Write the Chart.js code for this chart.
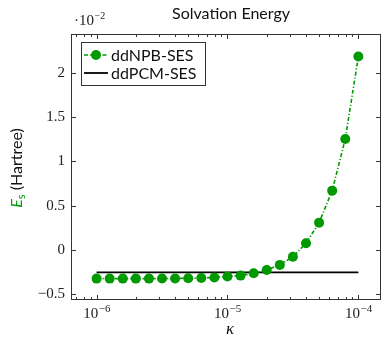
<!DOCTYPE html>
<html>
<head>
<meta charset="utf-8">
<script src="https://cdn.jsdelivr.net/npm/chart.js@4.4.0/dist/chart.umd.min.js"></script>
<style>
html,body{margin:0;padding:0;background:#fff;}
canvas{display:block;}
</style>
</head>
<body>
<canvas id="chart" width="386" height="337"></canvas>
<script>
// ================= DATA =================
const kappa = [1e-6, 1.259e-6, 1.585e-6, 1.995e-6, 2.512e-6, 3.162e-6, 3.981e-6, 5.012e-6, 6.310e-6, 7.943e-6,
               1e-5, 1.259e-5, 1.585e-5, 1.995e-5, 2.512e-5, 3.162e-5, 3.981e-5, 5.012e-5, 6.310e-5, 7.943e-5, 1e-4];
// energies in units of 1e-2 Hartree
const npbSES = [-0.326, -0.326, -0.326, -0.326, -0.326, -0.325, -0.324, -0.322, -0.319, -0.313,
                -0.303, -0.292, -0.266, -0.228, -0.171, -0.078, 0.074, 0.307, 0.669, 1.254, 2.187];
const pcmSES = [-0.255, -0.255, -0.255, -0.255, -0.255, -0.255, -0.255, -0.255, -0.255, -0.255,
                -0.255, -0.255, -0.255, -0.255, -0.255, -0.255, -0.255, -0.255, -0.255, -0.255, -0.255];
const seriesNames = ["ddNPB-SES", "ddPCM-SES"];

const xTickValues = [1e-6, 1e-5, 1e-4];
const xTickExps = ["\u22126", "\u22125", "\u22124"];
const yTickValues = [-0.5, 0, 0.5, 1, 1.5, 2];
const yTickLabels = ["\u22120.5", "0", "0.5", "1", "1.5", "2"];

const GREEN = "#009900";
const SERIF = "'Liberation Serif', 'DejaVu Serif', serif";
const SANS = "Lato, 'Open Sans', sans-serif";
const NPB_DASH = [4, 2, 1.2, 2];

// ================= HELPERS =================
function powLabel(ctx, cx, base, exp, size){
    // "10" with a raised exponent, centred on cx
    ctx.font = size + "px " + SERIF;
    const wb = ctx.measureText("10").width;
    ctx.font = Math.round(size*0.7) + "px " + SERIF;
    const we = ctx.measureText(exp).width;
    const x0 = cx - (wb + we)/2;
    ctx.textAlign = "left";
    ctx.textBaseline = "alphabetic";
    ctx.font = size + "px " + SERIF;
    ctx.fillText("10", x0, base);
    ctx.font = Math.round(size*0.7) + "px " + SERIF;
    ctx.fillText(exp, x0 + wb + 0.5, base - 6);
}

// ================= DECORATION =================
const pgfLook = {
    id: "pgfLook",
    afterDraw(chart){
        const {ctx, chartArea:{left, right, top, bottom}, scales:{x, y}} = chart;
        ctx.save();
        ctx.strokeStyle = "#333";
        ctx.lineWidth = 1;

        // frame
        ctx.strokeRect(left + 0.5, top + 0.5, right - left - 1, bottom - top - 1);

        // x ticks (major + minor), pointing inward
        ctx.beginPath();
        for(let d = -7; d <= -4; d++){
            for(let m = 1; m <= 9; m++){
                const v = m * Math.pow(10, d);
                if(v < x.min || v > x.max) continue;
                const px = Math.round(x.getPixelForValue(v)) + 0.5;
                const len = m === 1 ? 5 : 3;
                ctx.moveTo(px, bottom); ctx.lineTo(px, bottom - len);
                ctx.moveTo(px, top); ctx.lineTo(px, top + len);
            }
        }
        // y ticks
        yTickValues.forEach(v => {
            const py = Math.round(y.getPixelForValue(v)) + 0.5;
            ctx.moveTo(left, py); ctx.lineTo(left + 5, py);
            ctx.moveTo(right, py); ctx.lineTo(right - 5, py);
        });
        ctx.stroke();

        // x tick labels
        ctx.fillStyle = "#222";
        xTickValues.forEach((v, i) => powLabel(ctx, x.getPixelForValue(v), 318, xTickExps[i], 15));

        // scale note
        ctx.font = "15px " + SERIF;
        ctx.textAlign = "left";
        ctx.fillText("\u00b710", 74, 25);
        const w10 = ctx.measureText("\u00b710").width;
        ctx.font = "10px " + SERIF;
        ctx.fillText("\u22122", 74 + w10 + 0.5, 19);

        // title
        ctx.fillStyle = "#111";
        ctx.font = "16px " + SANS;
        ctx.textAlign = "center";
        ctx.textBaseline = "middle";
        ctx.fillText("Solvation Energy", 231, 14);

        // x label
        ctx.font = "italic 17px " + SERIF;
        ctx.fillText("\u03ba", 230, 330);

        // y label
        ctx.save();
        ctx.translate(22, 168);
        ctx.rotate(-Math.PI/2);
        ctx.textBaseline = "alphabetic";
        ctx.textAlign = "left";
        ctx.font = "italic 16px " + SANS;
        const wE = ctx.measureText("E").width;
        ctx.font = "11px " + SANS;
        const wS = ctx.measureText("s").width;
        ctx.font = "16px " + SANS;
        const wH = ctx.measureText(" (Hartree)").width;
        let cx = -(wE + wS + wH)/2;
        ctx.fillStyle = GREEN;
        ctx.font = "italic 16px " + SANS;
        ctx.fillText("E", cx, 0); cx += wE;
        ctx.font = "11px " + SANS;
        ctx.fillText("s", cx, 3); cx += wS;
        ctx.fillStyle = "#111";
        ctx.font = "16px " + SANS;
        ctx.fillText(" (Hartree)", cx, 0);
        ctx.restore();

        // legend
        const lx = 81, ly = 42, lw = 124, lh = 43;
        ctx.fillStyle = "#fff";
        ctx.fillRect(lx, ly, lw, lh);
        ctx.strokeStyle = "#333";
        ctx.strokeRect(lx + 0.5, ly + 0.5, lw, lh);
        const rows = [55, 73];
        // NPB sample
        ctx.strokeStyle = GREEN;
        ctx.lineWidth = 1.6;
        ctx.setLineDash(NPB_DASH);
        ctx.beginPath(); ctx.moveTo(84, rows[0]); ctx.lineTo(108, rows[0]); ctx.stroke();
        ctx.setLineDash([]);
        ctx.fillStyle = GREEN;
        ctx.beginPath(); ctx.arc(96, rows[0], 5, 0, Math.PI*2); ctx.fill();
        // PCM sample
        ctx.strokeStyle = "#000";
        ctx.lineWidth = 1.8;
        ctx.beginPath(); ctx.moveTo(84, rows[1]); ctx.lineTo(108, rows[1]); ctx.stroke();
        ctx.fillStyle = "#111";
        ctx.font = "16px " + SANS;
        ctx.textAlign = "left";
        ctx.textBaseline = "middle";
        seriesNames.forEach((n, i) => ctx.fillText(n, 111, rows[i] + 1));
        ctx.restore();
    }
};

// ================= CHART =================
new Chart(document.getElementById("chart").getContext("2d"), {
    type: "line",
    data: {
        datasets: [
            {label: seriesNames[0], data: kappa.map((k, i) => ({x: k, y: npbSES[i]})),
             borderColor: GREEN, backgroundColor: GREEN, borderWidth: 1.6, borderDash: NPB_DASH,
             pointRadius: 5, pointBorderWidth: 0, tension: 0},
            {label: seriesNames[1], data: kappa.map((k, i) => ({x: k, y: pcmSES[i]})),
             borderColor: "#000", borderWidth: 1.8, pointRadius: 0, tension: 0}
        ]
    },
    options: {
        responsive: false,
        animation: false,
        devicePixelRatio: 1,
        layout: {padding: {top: 34, right: 0, left: 0, bottom: 0}},
        plugins: {legend: {display: false}, tooltip: {enabled: false}, title: {display: false}},
        scales: {
            x: {
                type: "logarithmic",
                min: Math.pow(10, -6.1955),
                max: Math.pow(10, -3.827),
                grid: {display: false, drawTicks: false},
                border: {display: false},
                ticks: {display: false},
                afterBuildTicks: s => { s.ticks = xTickValues.map(v => ({value: v})); },
                afterFit: s => { s.height = 37; }
            },
            y: {
                min: -0.568,
                max: 2.441,
                grid: {display: false, drawTicks: false},
                border: {display: false},
                afterBuildTicks: s => { s.ticks = yTickValues.map(v => ({value: v})); },
                ticks: {
                    padding: 6,
                    color: "#222",
                    font: {family: SERIF, size: 15},
                    callback: (v, i) => yTickLabels[i]
                },
                afterFit: s => { s.width = 71; }
            }
        }
    },
    plugins: [pgfLook]
});
</script>
</body>
</html>
